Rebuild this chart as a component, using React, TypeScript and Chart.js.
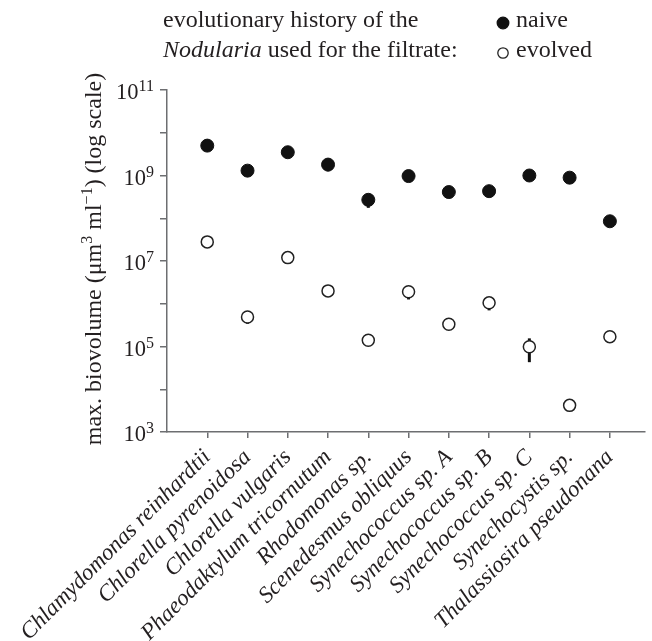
import React, { useEffect, useRef } from "react";
import { Chart, registerables } from "chart.js";

Chart.register(...registerables);

const species = [
  "Chlamydomonas reinhardtii",
  "Chlorella pyrenoidosa",
  "Chlorella vulgaris",
  "Phaeodaktylum tricornutum",
  "Rhodomonas sp.",
  "Scenedesmus obliquus",
  "Synechococcus sp. A",
  "Synechococcus sp. B",
  "Synechococcus sp. C",
  "Synechocystis sp.",
  "Thalassiosira pseudonana",
];

const naive = [5.0e9, 1.3e9, 3.5e9, 1.8e9, 2.7e8, 9.7e8, 4.1e8, 4.3e8, 1.0e9, 8.9e8, 8.5e7];
const naiveLow = [null, null, null, 1.25e9, 1.75e8, null, null, null, null, null, null];
const naiveHigh = [null, null, null, null, null, null, null, null, null, null, null];

const evolved = [2.8e7, 4.9e5, 1.2e7, 2.0e6, 1.4e5, 1.9e6, 3.3e5, 1.05e6, 9.9e4, 4.2e3, 1.7e5];
const evolvedLow = [null, 3.4e5, null, null, null, 1.26e6, null, 7.0e5, 4.3e4, null, null];
const evolvedHigh = [null, null, null, null, null, null, null, null, 1.55e5, null, null];

const yTickExponents = [3, 4, 5, 6, 7, 8, 9, 10, 11];
const yLabelExponents = [3, 5, 7, 9, 11];

const TEXT = "#231f20";
const AXIS = "#6d6e71";
const FONT = '"Liberation Serif", "Times New Roman", serif';

const errorBarPlugin = {
  id: "errorBars",
  beforeDatasetsDraw(chart: any) {
    const ctx = chart.ctx;
    const y = chart.scales.y;
    const x = chart.scales.x;
    const sets = [
      { vals: naive, low: naiveLow, high: naiveHigh },
      { vals: evolved, low: evolvedLow, high: evolvedHigh },
    ];
    ctx.save();
    ctx.strokeStyle = "#111";
    ctx.lineWidth = 3;
    sets.forEach((s) => {
      s.vals.forEach((v, i) => {
        const px = x.getPixelForValue(i + 1);
        [s.low[i], s.high[i]].forEach((end) => {
          if (end == null) return;
          ctx.beginPath();
          ctx.moveTo(px, y.getPixelForValue(v));
          ctx.lineTo(px, y.getPixelForValue(end));
          ctx.stroke();
        });
      });
    });
    ctx.restore();
  },
};

const textPlugin = {
  id: "headerText",
  afterDraw(chart: any) {
    const ctx = chart.ctx;
    ctx.save();
    ctx.fillStyle = TEXT;
    ctx.textBaseline = "alphabetic";
    ctx.textAlign = "left";
    ctx.font = `24px ${FONT}`;
    ctx.fillText("evolutionary history of the", 163, 27);
    ctx.font = `italic 24px ${FONT}`;
    ctx.fillText("Nodularia", 163, 57);
    const w = ctx.measureText("Nodularia").width;
    ctx.font = `24px ${FONT}`;
    ctx.fillText(" used for the filtrate:", 163 + w, 57);

    // legend entries from the datasets
    const ds = chart.data.datasets;
    const rows = [27, 57];
    const radii = [5.8, 5.2];
    ds.forEach((d: any, i: number) => {
      const cy = rows[i] - 4;
      ctx.beginPath();
      ctx.arc(503, cy, radii[i], 0, Math.PI * 2);
      ctx.fillStyle = d.backgroundColor;
      ctx.fill();
      ctx.lineWidth = 1.3;
      ctx.strokeStyle = d.borderColor;
      ctx.stroke();
      ctx.fillStyle = TEXT;
      ctx.font = `24px ${FONT}`;
      ctx.fillText(d.label, 516, rows[i]);
    });

    // y tick labels with superscript exponents, placed via the y scale
    const ys = chart.scales.y;
    const right = ys.right - 13;
    yLabelExponents.forEach((e) => {
      const py = ys.getPixelForValue(Math.pow(10, e));
      ctx.textAlign = "left";
      ctx.font = `16px ${FONT}`;
      const sw = ctx.measureText(String(e)).width;
      ctx.font = `22.5px ${FONT}`;
      const mw = ctx.measureText("10").width;
      const x0 = right - sw - mw;
      ctx.fillText("10", x0, py + 9);
      ctx.font = `16px ${FONT}`;
      ctx.fillText(String(e), x0 + mw, py + 1);
    });

    // y-axis title
    ctx.translate(95, 259);
    ctx.rotate(-Math.PI / 2);
    ctx.textAlign = "left";
    ctx.textBaseline = "middle";
    const parts: [string, number, number][] = [
      ["max. biovolume (μm", 24, 0],
      ["3", 16, -7],
      [" ml", 24, 0],
      ["−1", 16, -7],
      [") (log scale)", 24, 0],
    ];
    let total = 0;
    parts.forEach(([t, s]) => {
      ctx.font = `${s}px ${FONT}`;
      total += ctx.measureText(t).width;
    });
    let cx = -total / 2;
    parts.forEach(([t, s, dy]) => {
      ctx.font = `${s}px ${FONT}`;
      ctx.fillText(t, cx, dy);
      cx += ctx.measureText(t).width;
    });
    ctx.restore();
  },
};

export default function App() {
  const ref = useRef<HTMLCanvasElement>(null);

  useEffect(() => {
    if (!ref.current) return;
    const chart = new Chart(ref.current, {
      type: "scatter",
      data: {
        datasets: [
          {
            label: "naive",
            data: naive.map((v, i) => ({ x: i + 1, y: v })),
            backgroundColor: "#111111",
            borderColor: "#111111",
            borderWidth: 1,
            pointRadius: 6.5,
          },
          {
            label: "evolved",
            data: evolved.map((v, i) => ({ x: i + 1, y: v })),
            backgroundColor: "#ffffff",
            borderColor: "#222222",
            borderWidth: 1.5,
            pointRadius: 6,
          },
        ],
      },
      options: {
        responsive: false,
        animation: false,
        devicePixelRatio: 1,
        layout: { padding: { left: 0, top: 90, right: 0, bottom: 0 } },
        plugins: { legend: { display: false }, tooltip: { enabled: false } },
        scales: {
          x: {
            type: "linear",
            min: 0,
            max: 11.86,
            afterBuildTicks: (scale: any) => {
              scale.ticks = species.map((_, i) => ({ value: i + 1 }));
            },
            afterFit: (scale: any) => {
              scale.height = 641 - 432;
              scale.paddingLeft = 0;
              scale.paddingRight = 0;
            },
            border: { display: true, color: AXIS, width: 1.5 },
            grid: { drawOnChartArea: false, drawTicks: true, tickLength: 6, color: AXIS, lineWidth: 1.5 },
            ticks: {
              autoSkip: false,
              minRotation: 45,
              maxRotation: 45,
              padding: 6,
              color: TEXT,
              font: { family: FONT, size: 23, style: "italic" },
              callback: (v: any) => species[Math.round(Number(v)) - 1] ?? "",
            },
          },
          y: {
            type: "logarithmic",
            min: 1e3,
            max: 1e11,
            afterBuildTicks: (scale: any) => {
              scale.ticks = yTickExponents.map((e) => ({ value: Math.pow(10, e) }));
            },
            afterFit: (scale: any) => {
              scale.width = 167;
              scale.paddingTop = 0;
              scale.paddingBottom = 0;
            },
            border: { display: true, color: AXIS, width: 1.5 },
            grid: { drawOnChartArea: false, drawTicks: true, tickLength: 7, color: AXIS, lineWidth: 1.5 },
            ticks: {
              display: false,
              callback: () => "",
            },
          },
        },
      },
      plugins: [errorBarPlugin, textPlugin],
    });
    return () => chart.destroy();
  }, []);

  return (
    <div style={{ position: "absolute", left: 0, top: 0, width: 652, height: 641, background: "#fff" }}>
      <canvas ref={ref} width={652} height={641} />
    </div>
  );
}
